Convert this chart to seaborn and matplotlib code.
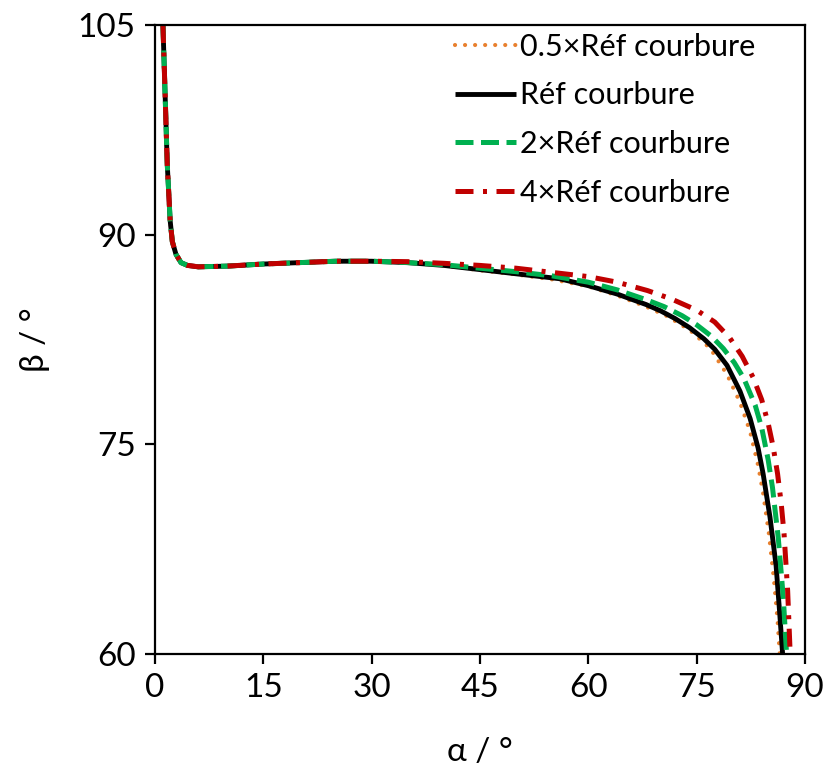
import numpy as np
import pandas as pd
import matplotlib
matplotlib.use("Agg")
import matplotlib.pyplot as plt
import seaborn as sns

# ---- data ----
common_alpha = [1.1, 1.4, 1.7, 2.1, 2.4, 2.9, 3.6, 4.5, 6, 10, 15, 20, 25, 30, 35, 40]
common_beta = [105, 100, 95, 91, 89.5, 88.6, 88.0, 87.8, 87.7, 87.75, 87.9, 88.0, 88.1, 88.1, 88.0, 87.8]

half_alpha = common_alpha + [45, 50, 55, 60, 64, 68, 71, 74.1, 76.9, 79.2, 81.0, 82.4, 83.5, 84.2, 85.0, 85.7, 86.2, 86.5]
half_beta = common_beta + [87.45, 87.15, 86.8, 86.3, 85.65, 84.85, 84.15, 83.15, 81.85, 80.0, 78.0, 75.9, 73.5, 71.5, 68.6, 65.3, 62.4, 60.0]

ref_alpha = common_alpha + [45, 50, 56, 60, 64, 68, 70, 72, 74, 76, 77.5, 79.2, 81.0, 82.4, 83.5, 84.2, 85.15, 86.0, 86.5, 86.9]
ref_beta = common_beta + [87.5, 87.2, 86.85, 86.35, 85.75, 85.0, 84.55, 84.0, 83.35, 82.55, 81.8, 80.65, 78.8, 76.85, 74.75, 72.9, 69.8, 66.3, 62.9, 60.0]

dbl_alpha = common_alpha + [45, 50, 55, 60, 64, 68, 70.5, 73, 75, 77, 78.7, 80.2, 81.5, 83.1, 84.0, 84.9, 85.5, 86.3, 87.0, 87.45]
dbl_beta = common_beta[:-1] + [87.85] + [87.6, 87.35, 87.05, 86.6, 86.05, 85.35, 84.85, 84.2, 83.55, 82.75, 81.85, 80.85, 79.75, 77.8, 76.2, 73.9, 71.9, 68.3, 64.0, 60.0]

quad_alpha = common_alpha + [45, 50, 55, 60, 64, 68.2, 71.5, 75, 77.5, 79.6, 81.3, 82.8, 84.0, 84.9, 85.6, 86.2, 86.7, 87.1, 87.6, 87.95]
quad_beta = common_beta[:-2] + [88.07, 87.95] + [87.8, 87.6, 87.3, 87.0, 86.6, 86.0, 85.4, 84.6, 83.75, 82.6, 81.3, 79.8, 78.2, 76.5, 74.8, 72.9, 70.8, 68.6, 64.5, 60.0]

labels = ["0.5×Réf courbure", "Réf courbure", "2×Réf courbure", "4×Réf courbure"]
x_ticks = [0, 15, 30, 45, 60, 75, 90]
y_ticks = [60, 75, 90, 105]

# ---- style ----
sns.set_theme(style="ticks")
plt.rcParams["font.family"] = ["Lato", "DejaVu Sans"]

fig = plt.figure(figsize=(8.24, 7.78), dpi=100)
ax = fig.add_axes([155 / 824, 1 - 654 / 778, (805 - 155) / 824, (654 - 25) / 778])

series = [
    (half_alpha, half_beta, "#E8802E", (0, (0.01, 2.4)), 3.0, "round"),
    (ref_alpha, ref_beta, "#000000", "-", 3.5, "butt"),
    (dbl_alpha, dbl_beta, "#00B050", (0, (3.6, 1.5)), 3.6, "butt"),
    (quad_alpha, quad_beta, "#C00000", (0, (3.6, 1.9, 0.8, 1.9)), 3.6, "butt"),
]

for (a, b, c, ls, lw, cap), lab in zip(series, labels):
    df = pd.DataFrame({"alpha": a, "beta": b})
    sns.lineplot(data=df, x="alpha", y="beta", ax=ax, color=c, linewidth=lw,
                 linestyle=ls, sort=False, estimator=None, label=lab,
                 dash_capstyle=cap, solid_capstyle="butt")

ax.set_xlim(0, 90)
ax.set_ylim(60, 105)
ax.set_xticks(x_ticks)
ax.set_yticks(y_ticks)
ax.tick_params(axis="both", direction="out", length=7, width=1.6, labelsize=24,
               colors="black", pad=7)
for s in ax.spines.values():
    s.set_visible(True)
    s.set_linewidth(1.6)
    s.set_color("black")

ax.set_xlabel("α / °", fontsize=24, labelpad=24, color="black")
ax.set_ylabel("β / °", fontsize=24, labelpad=20, color="black")

leg = ax.legend(loc="upper left", frameon=False, fontsize=22, handlelength=2.0,
                handletextpad=0.15, labelspacing=0.68, borderpad=0.0,
                borderaxespad=0.0, bbox_to_anchor=(0.461, 0.988))
for t in leg.get_texts():
    t.set_color("black")

fig.savefig("out.png", dpi=100)
